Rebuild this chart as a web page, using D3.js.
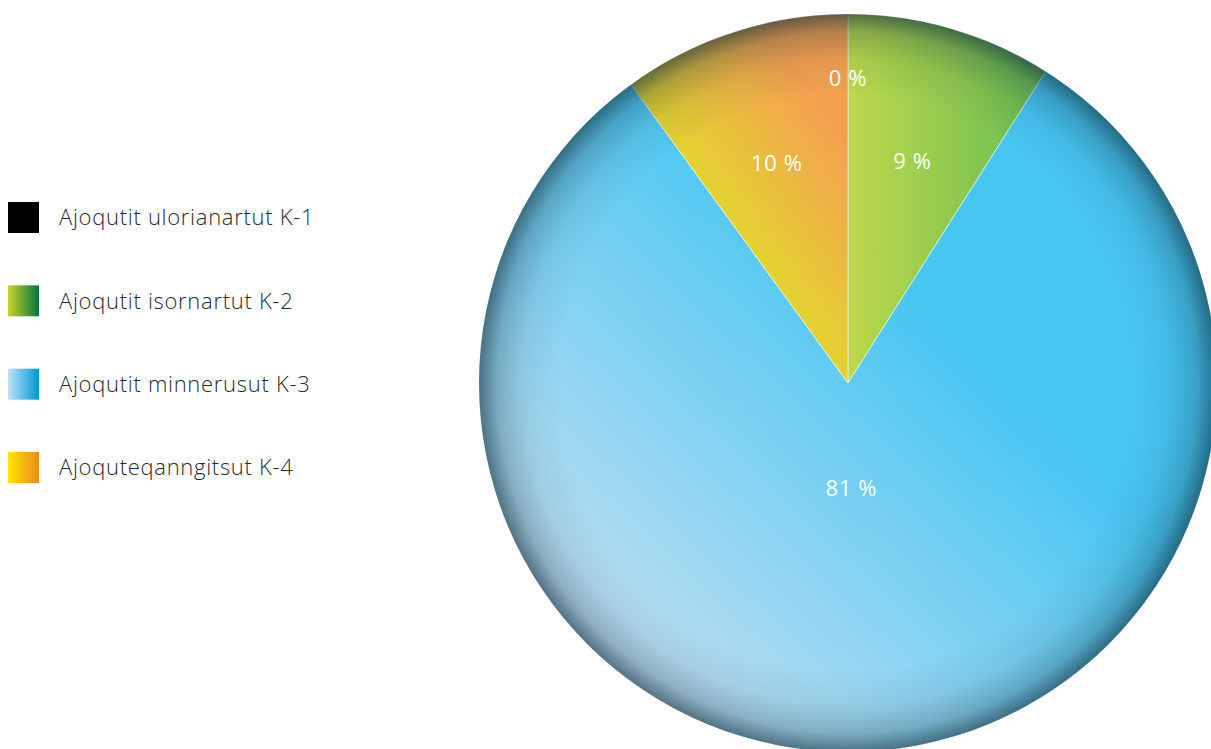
<!DOCTYPE html>
<html>
<head>
<meta charset="utf-8">
<script src="https://cdn.jsdelivr.net/npm/d3@7"></script>
<style>
  html, body { margin: 0; padding: 0; background: #fff; }
  svg { display: block; }
</style>
</head>
<body>
<svg id="chart" width="1211" height="749"></svg>
<script>
// ---- data ----
const categories = ["Ajoqutit ulorianartut K-1", "Ajoqutit isornartut K-2", "Ajoqutit minnerusut K-3", "Ajoquteqanngitsut K-4"];
const values = [0, 9, 81, 10];
const valueLabels = ["0 %", "9 %", "81 %", "10 %"];

// ---- styles (not data) ----
const legendStops = [
  ["#000000", "#000000"],
  ["#c9d42a", "#00773d"],
  ["#bde2f6", "#0096d7"],
  ["#ffe600", "#ec8a20"]
];
const sliceStops = [
  ["#000000", "#000000"],
  ["#bcd84a", "#66bc53"],
  ["#bddef0", "#47c6f2"],
  ["#dfdc2a", "#f4a04f"]
];

const W = 1211, H = 749;
const cx = 848, cy = 383, R = 369;
const svg = d3.select("#chart");
const defs = svg.append("defs");

// slice gradients (coordinates local to the pie group, centred at 0,0)
const gradGeom = {
  1: [0, -0.5, 0.55, -0.5],
  2: [-0.6, 0.75, 0.25, -0.15],
  3: [-0.42, -0.45, -0.05, -0.72]
};
sliceStops.forEach((s, i) => {
  const g = defs.append("linearGradient").attr("id", "sg" + i);
  if (gradGeom[i]) {
    const q = gradGeom[i];
    g.attr("gradientUnits", "userSpaceOnUse")
      .attr("x1", q[0] * R).attr("y1", q[1] * R)
      .attr("x2", q[2] * R).attr("y2", q[3] * R);
  }
  g.append("stop").attr("offset", "0%").attr("stop-color", s[0]);
  g.append("stop").attr("offset", "100%").attr("stop-color", s[1]);
});

// rim shading
const rim = defs.append("radialGradient").attr("id", "rim")
  .attr("gradientUnits", "userSpaceOnUse")
  .attr("cx", 0).attr("cy", 0).attr("r", R);
[[0, 0], [0.78, 0], [0.88, 0.08], [0.95, 0.26], [1, 0.6]].forEach(([o, a]) => {
  rim.append("stop").attr("offset", (o * 100) + "%").attr("stop-color", "#0c2c3c").attr("stop-opacity", a);
});

// legend gradients
legendStops.forEach((s, i) => {
  const g = defs.append("linearGradient").attr("id", "lg" + i);
  g.append("stop").attr("offset", "0%").attr("stop-color", s[0]);
  g.append("stop").attr("offset", "100%").attr("stop-color", s[1]);
});

const data = categories.map((c, i) => ({ cat: c, value: values[i], label: valueLabels[i], idx: i }));

const pie = d3.pie().sort(null).value(d => d.value);
const arcs = pie(data);
const arc = d3.arc().innerRadius(0).outerRadius(R);

const g = svg.append("g").attr("transform", `translate(${cx},${cy})`);

g.selectAll("path.slice")
  .data(arcs.filter(a => a.data.value > 0))
  .join("path")
  .attr("class", "slice")
  .attr("d", arc)
  .attr("fill", d => `url(#sg${d.data.idx})`)
  .attr("stroke", "rgba(255,255,255,0.55)")
  .attr("stroke-width", 1);

g.append("circle").attr("r", R).attr("fill", "url(#rim)");

// labels
const labelFactor = a => {
  const span = a.endAngle - a.startAngle;
  if (span === 0) return 0.825;
  if (span > Math.PI) return 0.285;
  return 0.625;
};
g.append("g")
  .selectAll("text")
  .data(arcs)
  .join("text")
  .attr("transform", d => {
    const f = labelFactor(d);
    const c = d3.arc().innerRadius(R * f).outerRadius(R * f).centroid(d);
    return `translate(${c[0]},${c[1]})`;
  })
  .attr("text-anchor", "middle")
  .attr("dy", "0.35em")
  .attr("fill", "#ffffff")
  .attr("font-family", "'Open Sans', 'Noto Sans', sans-serif")
  .attr("font-weight", 400)
  .attr("font-size", 22)
  .attr("letter-spacing", 0.6)
  .text(d => d.data.label);

// legend
const ly = d3.scalePoint().domain(categories).range([217.5, 467.5]);
const leg = svg.append("g").selectAll("g")
  .data(data)
  .join("g")
  .attr("transform", d => `translate(8,${ly(d.cat)})`);
leg.append("rect")
  .attr("x", 0).attr("y", -15.5)
  .attr("width", 31).attr("height", 31)
  .attr("fill", d => `url(#lg${d.idx})`);
leg.append("text")
  .attr("x", 51).attr("y", 0)
  .attr("dy", "0.35em")
  .attr("fill", "#2b2b2b")
  .attr("font-family", "'Open Sans', 'Noto Sans', sans-serif")
  .attr("font-weight", 300)
  .attr("font-size", 22)
  .attr("letter-spacing", 0.7)
  .text(d => d.cat);
</script>
</body>
</html>
